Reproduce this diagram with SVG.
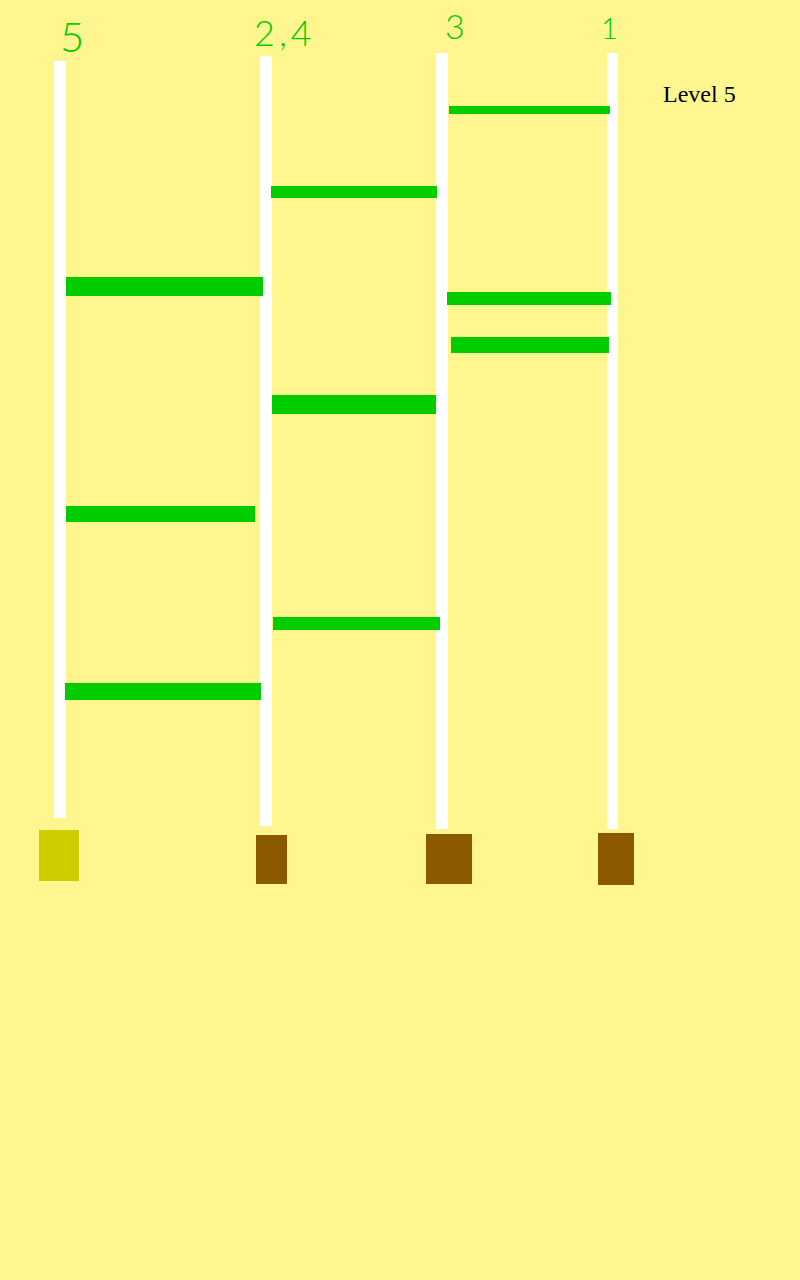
<svg xmlns="http://www.w3.org/2000/svg" width="800" height="1280" viewBox="0 0 800 1280">
<style>
.pole{fill:#ffffff}
.rung{fill:#00cd00}
.box{fill:#8b5a00}
.goal{fill:#cdcd00}
.hand{font-family:Lato,"DejaVu Sans",sans-serif;font-weight:300;fill:#00cd00}
.lvl{font-family:"Liberation Serif","Times New Roman",serif;font-size:24px;fill:#000000}
</style>
<rect x="0" y="0" width="800" height="1280" fill="#fff68f"/>
<g id="poles">
<rect class="pole" x="54" y="61" width="12" height="757"/>
<rect class="pole" x="260" y="56" width="12" height="770"/>
<rect class="pole" x="436" y="53" width="12" height="776"/>
<rect class="pole" x="607" y="53" width="11" height="776"/>
</g>
<g id="rungs">
<rect class="rung" x="449" y="106" width="161" height="8"/>
<rect class="rung" x="271" y="186" width="166" height="12"/>
<rect class="rung" x="66" y="277" width="197" height="19"/>
<rect class="rung" x="447" y="292" width="164" height="13"/>
<rect class="rung" x="451" y="337" width="158" height="16"/>
<rect class="rung" x="272" y="395" width="164" height="19"/>
<rect class="rung" x="66" y="506" width="189" height="16"/>
<rect class="rung" x="273" y="617" width="167" height="13"/>
<rect class="rung" x="65" y="683" width="196" height="17"/>
</g>
<g id="boxes">
<rect class="goal" x="39" y="830" width="40" height="51"/>
<rect class="box" x="256" y="835" width="31" height="49"/>
<rect class="box" x="426" y="834" width="46" height="50"/>
<rect class="box" x="598" y="833" width="36" height="52"/>
</g>
<g id="labels">
<text class="hand" x="60" y="52" font-size="42">5</text>
<text class="hand" x="254" y="46" font-size="36" letter-spacing="4">2,4</text>
<text class="hand" x="445" y="39" font-size="34">3</text>
<text class="hand" x="601" y="39" font-size="29">1</text>
<text class="lvl" x="663" y="102">Level 5</text>
</g>
</svg>
